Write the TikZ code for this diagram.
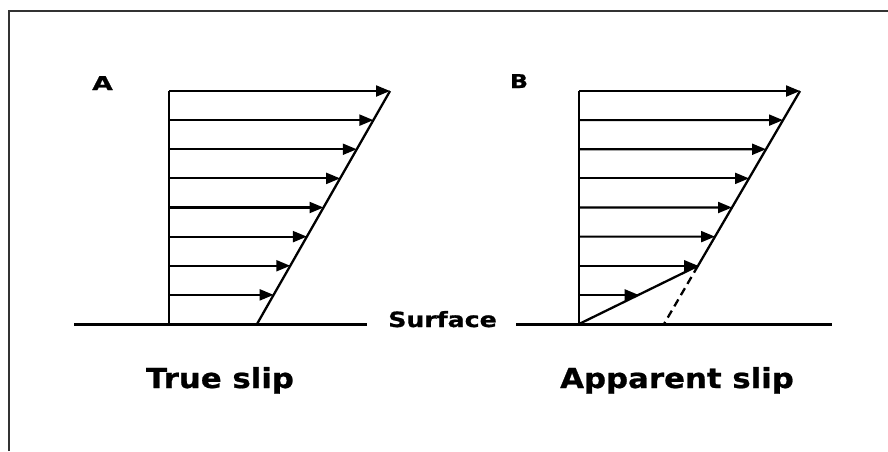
\documentclass[tikz,border=0pt]{standalone}
\usepackage{fontspec}
\usepackage{graphicx}
\setmainfont{DejaVu Sans}[BoldFeatures={FakeBold=0.8}]
\usetikzlibrary{arrows.meta,calc}
\tikzset{
  ground/.style={line width=3pt,black},
  profile/.style={line width=2.3pt,black},
  vel/.style={line width=2.1pt,black,-{Triangle[length=14pt,width=11pt]}},
  dashedline/.style={line width=2.3pt,black,dash pattern=on 8pt off 5pt},
  frame/.style={line width=1.3pt,black!80},
  panellabel/.style={inner sep=0pt,anchor=base,font=\bfseries\fontsize{19}{19}\selectfont},
  caption/.style={inner sep=0pt,anchor=base,font=\bfseries\fontsize{27.5}{27.5}\selectfont},
  surflabel/.style={inner sep=0pt,anchor=base,font=\bfseries\fontsize{21}{21}\selectfont}
}
\begin{document}
\begin{tikzpicture}[x=1pt,y=-1pt]
\useasboundingbox (0,0) rectangle (888,451);
% frame
\coordinate (f0) at (9,451);
\coordinate (f1) at (9,11);
\coordinate (f2) at (888,11);
\draw[frame] (f0) -- (f1) -- (f2);

% ---------- Panel A ----------
\coordinate (gA0) at (74,324);
\coordinate (gA1) at (367,324);
\coordinate (oA) at (169,324);
\coordinate (vA) at (169,91);
\coordinate (botA) at (257,324);
\coordinate (topA) at (390,91);
\draw[ground] (gA0) -- (gA1);
\draw[profile] (oA) -- (vA);
\draw[profile] (botA) -- (topA);
\foreach \k in {0,...,7}{
  \coordinate (sA\k) at ($(oA)!{1-\k/8}!(vA)$);
  \coordinate (tA\k) at ($(botA)!{1-\k/8}!(topA)$);
  \draw[vel] (sA\k) -- (tA\k);
}
\node[panellabel] (labA) at (102.5,90) {\scalebox{1.4}[1]{A}};
\node[caption] (capA) at (220,388) {\scalebox{1.12}[1]{True slip}};

% ---------- Surface ----------
\node[surflabel] (surf) at (442.5,327) {\scalebox{1.2}[1]{Surface}};

% ---------- Panel B ----------
\coordinate (gB0) at (516,324);
\coordinate (gB1) at (832,324);
\coordinate (oB) at (579,324);
\coordinate (vB) at (579,91);
\coordinate (kink) at (698,265.75);
\coordinate (topB) at (800,91);
\coordinate (dashEnd) at (664,324);
\draw[ground] (gB0) -- (gB1);
\draw[profile] (oB) -- (vB);
\draw[profile] (oB) -- (kink) -- (topB);
\draw[dashedline] (kink) -- (dashEnd);
\foreach \k in {0,...,7}{
  \coordinate (sB\k) at ($(oB)!{1-\k/8}!(vB)$);
}
\foreach \k in {0,...,6}{
  \coordinate (tB\k) at ($(kink)!{(6-\k)/6}!(topB)$);
  \draw[vel] (sB\k) -- (tB\k);
}
\coordinate (tB7) at ($(oB)!0.5!(kink)$);
\draw[vel] (sB7) -- (tB7);
\node[panellabel] (labB) at (519,88) {\scalebox{1.25}[1]{B}};
\node[caption] (capB) at (677,388) {\scalebox{1.12}[1]{Apparent slip}};
\end{tikzpicture}
\end{document}
